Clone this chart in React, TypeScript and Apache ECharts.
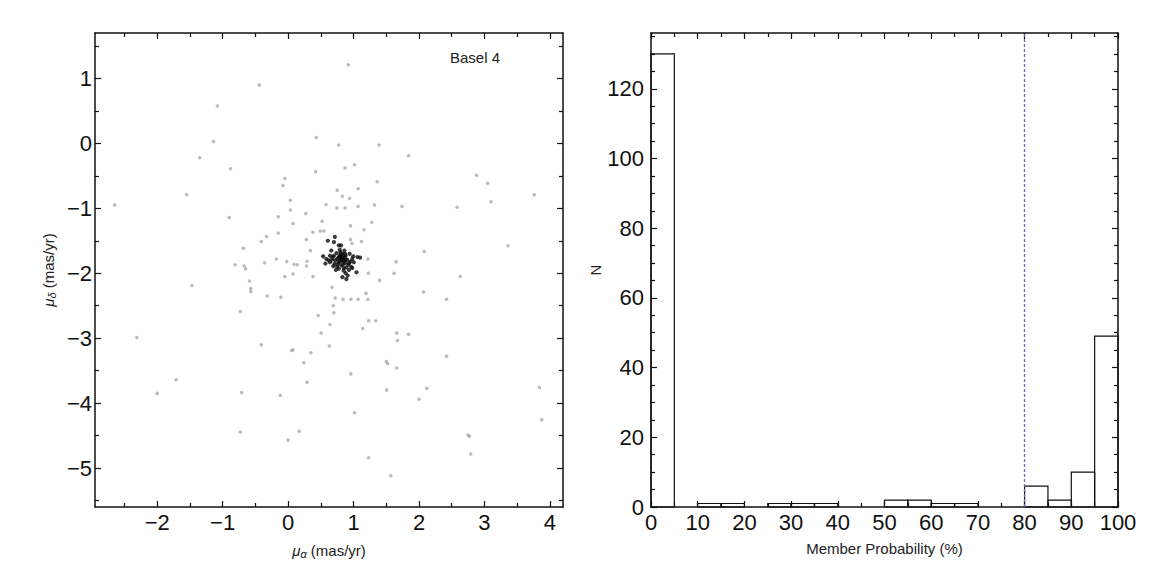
import React, { useEffect, useRef } from "react";
import * as echarts from "echarts";

// ---- Data ----
// Field stars (grey) proper motions [mu_alpha, mu_delta] in mas/yr
const fieldStars: number[][] = [
  [-2.65, -0.95], [-0.44, 0.9], [-1.08, 0.575], [-1.14, 0.03], [-1.35, -0.22], [-1.55, -0.79],
  [-0.88, -0.39], [-0.9, -1.14], [-1.47, -2.19], [0.43, 0.09], [0.42, -0.435], [-0.05, -0.54],
  [-0.08, -0.65], [0.58, -0.94], [0.035, -0.875], [0.035, -1.025], [0.27, -1.08], [-0.15, -1.13],
  [0.075, -1.235], [0.52, -1.2], [0.49, -1.35], [0.545, -1.35], [0.38, -1.37], [-0.15, -1.38],
  [-0.33, -1.435], [-0.41, -1.51], [0.28, -1.48], [0.34, -1.65], [-0.685, -1.615], [-0.81, -1.87],
  [-0.67, -1.89], [-0.65, -1.93], [-0.36, -1.84], [-0.18, -1.78], [-0.02, -1.82], [0.14, -1.87],
  [0.28, -1.89], [0.29, -1.815], [0.075, -2.01], [-0.05, -2.05], [0.38, -2.05], [-0.59, -2.12],
  [-0.57, -2.235], [-0.57, -2.28], [-0.32, -2.35], [-0.11, -2.37], [-0.73, -2.59], [0.46, -2.65],
  [0.92, 1.21], [0.775, -0.025], [1.39, -0.025], [1.84, -0.19], [0.87, -0.38], [1.015, -0.33],
  [1.36, -0.59], [2.88, -0.49], [3.05, -0.615], [3.1, -0.9], [3.76, -0.79], [2.58, -0.985],
  [1.74, -0.97], [1.32, -0.95], [1.07, -0.97], [0.87, -0.995], [0.745, -0.995], [0.75, -0.72],
  [0.83, -0.815], [0.94, -0.845], [1.07, -0.7], [1.28, -1.215], [0.954, -1.27], [1.16, -1.33],
  [0.954, -1.48], [1.12, -1.51], [0.975, -1.54], [2.08, -1.665], [3.36, -1.575], [1.22, -1.78],
  [1.65, -1.825], [1.225, -2.0], [1.4, -2.11], [1.62, -2.0], [2.63, -2.05], [2.07, -2.29],
  [2.42, -2.4], [0.67, -2.215], [0.72, -2.38], [0.84, -2.4], [0.96, -2.4], [1.07, -2.4],
  [1.22, -2.4], [1.19, -2.31], [0.69, -2.5], [0.7, -2.61], [0.09, -1.86],
  [0.505, -2.92], [0.64, -2.79], [0.63, -3.12], [1.14, -2.85], [1.23, -2.73], [1.34, -2.73],
  [1.66, -2.92], [1.67, -3.035], [1.84, -2.94], [0.055, -3.19], [0.075, -3.18], [0.35, -3.225],
  [0.24, -3.38], [0.29, -3.68], [0.96, -3.55], [1.5, -3.36], [1.52, -3.39], [1.66, -3.46],
  [1.505, -3.8], [1.015, -4.15], [1.23, -4.84], [1.57, -5.12], [2.42, -3.28], [2.12, -3.77],
  [2.0, -3.94], [2.75, -4.49], [2.77, -4.51], [2.79, -4.785], [3.84, -3.76], [3.875, -4.255],
  [0.0, -4.57], [0.17, -4.435], [-0.12, -3.88],
  [-2.31, -2.99], [-0.41, -3.1], [-1.71, -3.64], [-2.0, -3.85], [-0.71, -3.835], [-0.73, -4.445],
];

// Cluster members (black)
const members: number[][] = [
  [0.714, -1.44], [0.607, -1.5], [0.7, -1.52], [0.775, -1.57], [0.81, -1.57], [0.66, -1.65],
  [0.79, -1.64], [0.86, -1.65], [0.74, -1.69], [0.83, -1.7], [0.94, -1.7], [0.64, -1.73],
  [0.7, -1.73], [0.785, -1.74], [0.88, -1.73], [0.995, -1.74], [0.535, -1.74], [0.585, -1.78],
  [0.67, -1.79], [0.75, -1.78], [0.81, -1.76], [0.84, -1.79], [0.9, -1.79], [0.98, -1.78],
  [1.06, -1.75], [1.1, -1.76], [0.57, -1.85], [0.64, -1.83], [0.71, -1.855], [0.775, -1.83],
  [0.85, -1.815], [0.93, -1.845], [1.005, -1.83], [0.69, -1.89], [0.75, -1.9], [0.815, -1.88],
  [0.89, -1.91], [0.965, -1.9], [0.775, -1.93], [0.85, -1.96], [0.93, -1.95], [1.045, -1.985],
  [0.88, -2.0], [0.91, -2.035], [0.83, -2.06], [0.89, -2.09],
  [0.8, -1.72], [0.82, -1.8], [0.86, -1.76], [0.79, -1.82], [0.84, -1.86], [0.87, -1.84],
  [0.77, -1.76], [0.81, -1.78], [0.83, -1.74], [0.88, -1.79], [0.76, -1.86], [0.92, -1.87],
  [0.72, -1.8], [0.95, -1.82], [0.85, -1.92], [0.8, -1.68], [0.68, -1.75], [0.98, -1.92],
  [0.62, -1.8], [0.87, -1.7], [0.73, -1.95],
];

// Histogram of membership probability (bin width 5 %)
const binStarts = [0, 5, 10, 15, 20, 25, 30, 35, 40, 45, 50, 55, 60, 65, 70, 75, 80, 85, 90, 95];
const binWidth = 5;
const counts = [130, 0, 1, 1, 0, 1, 1, 1, 0, 0, 2, 2, 1, 1, 0, 0, 6, 2, 10, 49];
const probabilityCut = 80;

// Tick values
const pmXMajor = [-2, -1, 0, 1, 2, 3, 4];
const pmXMinor = [-2.5, -1.5, -0.5, 0.5, 1.5, 2.5, 3.5];
const pmYMajor = [-5, -4, -3, -2, -1, 0, 1];
const pmYMinor = [-5.5, -4.5, -3.5, -2.5, -1.5, -0.5, 0.5, 1.5];
const probMajor = [0, 10, 20, 30, 40, 50, 60, 70, 80, 90, 100];
const probMinor = [5, 15, 25, 35, 45, 55, 65, 75, 85, 95];
const nMajor = [0, 20, 40, 60, 80, 100, 120];
const nMinor = [5, 10, 15, 25, 30, 35, 45, 50, 55, 65, 70, 75, 85, 90, 95, 105, 110, 115, 125, 130, 135];

const FONT = '"Liberation Sans", Arial, Helvetica, sans-serif';
const fmt = (v: number) => (v < 0 ? "\u2212" + Math.abs(v) : String(v));

function axisSet(
  dim: "x" | "y",
  grid: number,
  min: number,
  max: number,
  majors: number[],
  minors: number[],
  labelMargin: number,
  nameOpts: any
) {
  const posA = dim === "x" ? "bottom" : "left";
  const posB = dim === "x" ? "top" : "right";
  const mk = (pos: string, major: boolean, withLabel: boolean, withLine: boolean, extra: any) => ({
    type: "value",
    gridIndex: grid,
    min,
    max,
    position: pos,
    splitLine: { show: false },
    axisLine: { show: withLine, onZero: false, lineStyle: { color: "#111", width: 1.5 } },
    axisTick: {
      show: true,
      inside: true,
      length: major ? 6 : 4,
      customValues: major ? majors : minors,
      lineStyle: { color: "#111", width: 1.2 },
    },
    axisLabel: withLabel
      ? {
          show: true,
          customValues: majors,
          formatter: fmt,
          fontSize: 22,
          color: "#111",
          fontFamily: FONT,
          margin: labelMargin,
        }
      : { show: false },
    ...extra,
  });
  return [
    mk(posA, true, true, true, nameOpts),
    mk(posA, false, false, false, {}),
    mk(posB, true, false, true, {}),
    mk(posB, false, false, false, {}),
  ];
}

const muName = (sub: string) => ({
  name: "{m|\u03bc}{s|" + sub + "} (mas/yr)",
  nameLocation: "middle",
  nameTextStyle: {
    fontSize: 15,
    fontFamily: FONT,
    color: "#222",
    rich: {
      m: { fontStyle: "italic", fontSize: 15, fontFamily: FONT, color: "#222" },
      s: { fontStyle: "italic", fontSize: 11, fontFamily: FONT, color: "#222", padding: [6, 0, 0, 0] },
    },
  },
});

export default function App() {
  const ref = useRef<HTMLDivElement>(null);

  useEffect(() => {
    if (!ref.current) return;
    const chart = echarts.init(ref.current, undefined, { renderer: "svg" });

    const xAxes = [
      ...axisSet("x", 0, -2.95, 4.2, pmXMajor, pmXMinor, 4, { ...muName("\u03b1"), nameGap: 35 }),
      ...axisSet("x", 1, 0, 100, probMajor, probMinor, 4, {
        name: "Member Probability (%)",
        nameLocation: "middle",
        nameGap: 34,
        nameTextStyle: { fontSize: 15, fontFamily: FONT, color: "#222" },
      }),
    ];
    const yAxes = [
      ...axisSet("y", 0, -5.6, 1.7, pmYMajor, pmYMinor, 3, { ...muName("\u03b4"), nameGap: 38 }),
      ...axisSet("y", 1, 0, 136, nMajor, nMinor, 7, {
        name: "N",
        nameLocation: "middle",
        nameGap: 48,
        nameTextStyle: { fontSize: 15, fontFamily: FONT, color: "#222" },
      }),
    ];

    const histData = binStarts.map((s, i) => [s, s + binWidth, counts[i]]);

    chart.setOption({
      animation: false,
      backgroundColor: "#ffffff",
      grid: [
        { left: 95, top: 33, width: 468, height: 474, outerBoundsMode: "none", containLabel: false },
        { left: 651, top: 33, width: 467, height: 474, outerBoundsMode: "none", containLabel: false },
      ],
      xAxis: xAxes,
      yAxis: yAxes,
      graphic: [
        {
          type: "text",
          left: 450,
          top: 50,
          style: { text: "Basel 4", font: '15px "Liberation Sans", Arial, sans-serif', fill: "#222" },
        },
      ],
      series: [
        {
          type: "scatter",
          name: "field",
          xAxisIndex: 0,
          yAxisIndex: 0,
          data: fieldStars,
          symbol: "circle",
          symbolSize: 3.5,
          itemStyle: { color: "#a9a9a9" },
        },
        {
          type: "scatter",
          name: "members",
          xAxisIndex: 0,
          yAxisIndex: 0,
          data: members,
          symbol: "circle",
          symbolSize: 4.2,
          itemStyle: { color: "#0a0a0a" },
        },
        {
          type: "custom",
          name: "histogram",
          xAxisIndex: 4,
          yAxisIndex: 4,
          data: histData,
          encode: { x: [0, 1], y: 2 },
          renderItem: (params: any, api: any) => {
            const x0 = api.value(0);
            const x1 = api.value(1);
            const n = api.value(2);
            if (!n) return null;
            const p0 = api.coord([x0, n]);
            const p1 = api.coord([x1, 0]);
            return {
              type: "rect",
              shape: { x: p0[0], y: p0[1], width: p1[0] - p0[0], height: p1[1] - p0[1] },
              style: { fill: "none", stroke: "#111", lineWidth: 1.2 },
            };
          },
          markLine: {
            silent: true,
            symbol: "none",
            label: { show: false },
            lineStyle: { color: "#6a6ab4", width: 1.3, type: [3, 2] },
            data: [{ xAxis: probabilityCut }],
          },
        },
      ],
    });

    return () => chart.dispose();
  }, []);

  return (
    <div
      ref={ref}
      style={{ position: "absolute", left: 0, top: 0, width: 1170, height: 588, background: "#fff" }}
    />
  );
}
